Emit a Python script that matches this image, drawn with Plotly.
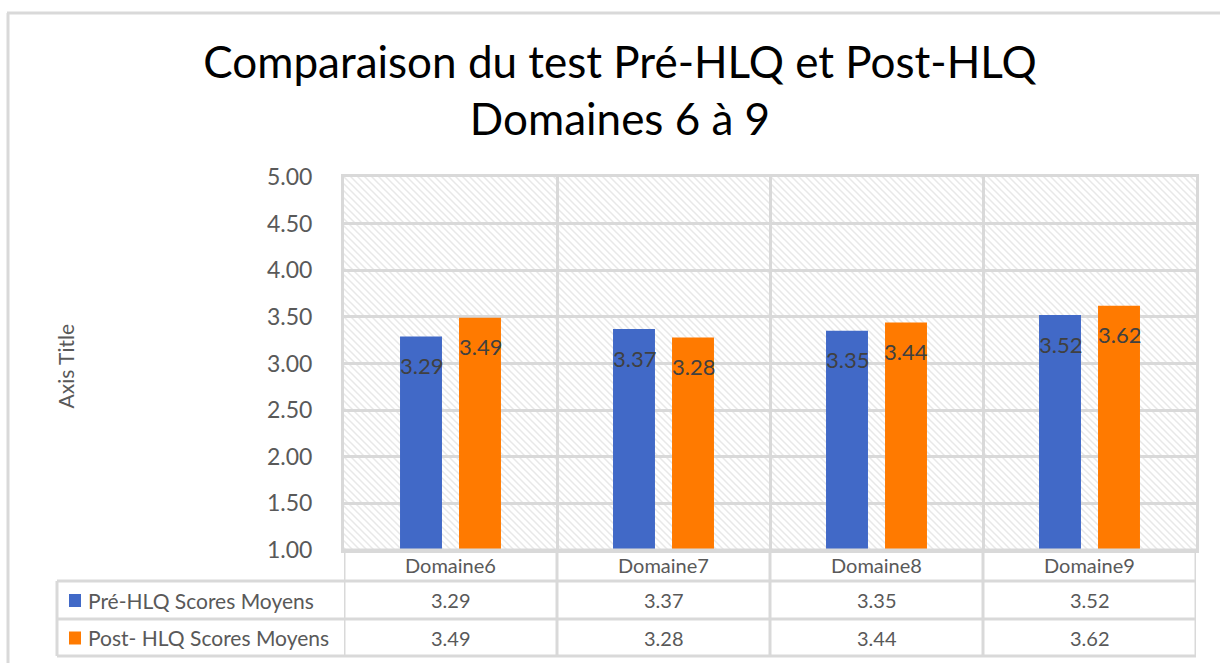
import base64
import plotly.graph_objects as go

# ---- data ----
domaines = ["Domaine6", "Domaine7", "Domaine8", "Domaine9"]
series_names = ["Pré-HLQ Scores Moyens", "Post- HLQ Scores Moyens"]
pre_scores = [3.29, 3.37, 3.35, 3.52]
post_scores = [3.49, 3.28, 3.44, 3.62]
y_ticks = [1.00, 1.50, 2.00, 2.50, 3.00, 3.50, 4.00, 4.50, 5.00]

colors = ["#4169C7", "#FF7A00"]
grid_col = "#D9D9D9"
text_col = "#595959"
FONT = "Lato"

W, H = 1220, 663
L, R, T, B = 344, 1196, 177, 550  # plot area in pixels


def px_x(px):
    return (px - L) / (R - L)


def px_y(py):
    return (B - py) / (B - T)


n = len(domaines)
centers = [i + 0.5 for i in range(n)]
slot = 0.277       # distance between the two bars of a group (category units)
bar_w = 0.197

fig = go.Figure()
for name, vals, col, sgn in [(series_names[0], pre_scores, colors[0], -1),
                             (series_names[1], post_scores, colors[1], 1)]:
    fig.add_trace(go.Bar(
        x=centers, y=[v - 1 for v in vals], base=1,
        width=bar_w, offset=sgn * slot / 2 - bar_w / 2,
        marker=dict(color=col, line=dict(width=0)),
        name=name, showlegend=False, hoverinfo="skip",
    ))

# data labels just inside the top of each bar
for vals, sgn in [(pre_scores, -1), (post_scores, 1)]:
    for c, v in zip(centers, vals):
        fig.add_annotation(x=c + sgn * slot / 2, y=v, xref="x", yref="y",
                           text=f"{v:.2f}", showarrow=False, yshift=-29,
                           yanchor="middle",
                           font=dict(family=FONT, size=22, color="#404040"))

# hatched background of the plot area
pw, ph = R - L, B - T
svg = (f'<svg xmlns="http://www.w3.org/2000/svg" width="{pw}" height="{ph}">'
       '<defs><pattern id="h" patternUnits="userSpaceOnUse" width="7" height="7">'
       '<path d="M-1,-1 L8,8 M-8,-1 L1,8 M6,-1 L15,8" stroke="#E8E8E8" stroke-width="1.5"/>'
       '</pattern></defs>'
       f'<rect width="{pw}" height="{ph}" fill="white"/>'
       f'<rect width="{pw}" height="{ph}" fill="url(#h)"/></svg>')
src = "data:image/svg+xml;base64," + base64.b64encode(svg.encode()).decode()
fig.add_layout_image(source=src, xref="x", yref="y", x=0, y=5, sizex=n, sizey=4,
                     sizing="stretch", layer="below", xanchor="left", yanchor="top")

# ---- data table below the plot ----
line = dict(color=grid_col, width=3)
row_y = [B, 581, 619, 656]
left_tab = 57
shapes = []
# horizontal rules
shapes.append(dict(type="line", xref="paper", yref="paper", x0=px_x(L), x1=px_x(R),
                   y0=px_y(row_y[0]), y1=px_y(row_y[0]), line=line))
for ry in row_y[1:]:
    shapes.append(dict(type="line", xref="paper", yref="paper", x0=px_x(left_tab), x1=px_x(R),
                       y0=px_y(ry), y1=px_y(ry), line=line))
# vertical rules
for i in range(n + 1):
    shapes.append(dict(type="line", xref="x", yref="paper", x0=i, x1=i,
                       y0=px_y(row_y[0]), y1=px_y(row_y[-1]), line=line))
shapes.append(dict(type="line", xref="paper", yref="paper", x0=px_x(left_tab), x1=px_x(left_tab),
                   y0=px_y(row_y[1]), y1=px_y(row_y[-1]), line=line))
# outer chart frame
shapes.append(dict(type="line", xref="paper", yref="paper", x0=px_x(7), x1=px_x(W + 5),
                   y0=px_y(13), y1=px_y(13), line=line))
shapes.append(dict(type="line", xref="paper", yref="paper", x0=px_x(8), x1=px_x(8),
                   y0=px_y(13), y1=px_y(H + 5), line=line))

# category labels
for c, d in zip(centers, domaines):
    fig.add_annotation(x=c, y=px_y((row_y[0] + row_y[1]) / 2 - 1), xref="x", yref="paper",
                       text=d, showarrow=False, yanchor="middle",
                       font=dict(family=FONT, size=20, color=text_col))

# series rows: legend key, name, values
for r, (name, vals, col) in enumerate([(series_names[0], pre_scores, colors[0]),
                                       (series_names[1], post_scores, colors[1])]):
    yc = (row_y[r + 1] + row_y[r + 2]) / 2
    shapes.append(dict(type="rect", xref="paper", yref="paper",
                       x0=px_x(69), x1=px_x(81), y0=px_y(yc - 6), y1=px_y(yc + 7),
                       fillcolor=col, line=dict(width=0)))
    fig.add_annotation(x=px_x(86), y=px_y(yc), xref="paper", yref="paper", text=name,
                       showarrow=False, xanchor="left", yanchor="middle",
                       font=dict(family=FONT, size=21, color=text_col))
    for c, v in zip(centers, vals):
        fig.add_annotation(x=c, y=px_y(yc), xref="x", yref="paper", text=f"{v:.2f}",
                           showarrow=False, yanchor="middle",
                           font=dict(family=FONT, size=20, color=text_col))

# axis title
fig.add_annotation(x=px_x(65), y=px_y((T + B) / 2 + 3), xref="paper", yref="paper",
                   text="Axis Title", textangle=-90, showarrow=False,
                   xanchor="center", yanchor="middle",
                   font=dict(family=FONT, size=21, color=text_col))

fig.update_layout(
    width=W, height=H,
    margin=dict(l=L, r=W - R, t=T, b=H - B, pad=0),
    paper_bgcolor="white", plot_bgcolor="rgba(0,0,0,0)",
    barmode="overlay",
    title=dict(text="Comparaison du test Pré-HLQ et Post-HLQ<br>Domaines 6 à 9",
               x=620 / W, xanchor="center", y=1 - 78 / H, yanchor="middle",
               xref="container", yref="container",
               font=dict(family=FONT, size=44, color="#000000")),
    shapes=shapes,
    xaxis=dict(range=[0, n], tickvals=[1, 2, 3], showticklabels=False, showgrid=True,
               gridcolor=grid_col, gridwidth=3, zeroline=False, showline=True,
               mirror=True, linecolor=grid_col, linewidth=3, fixedrange=True),
    yaxis=dict(range=[1, 5], tickvals=y_ticks, tickformat=".2f", showgrid=True,
               gridcolor=grid_col, gridwidth=3, zeroline=False, showline=True,
               mirror=True, linecolor=grid_col, linewidth=3, ticks="",
               ticklabelstandoff=24,
               tickfont=dict(family=FONT, size=23, color=text_col), fixedrange=True),
)

fig.write_html("out.html")
